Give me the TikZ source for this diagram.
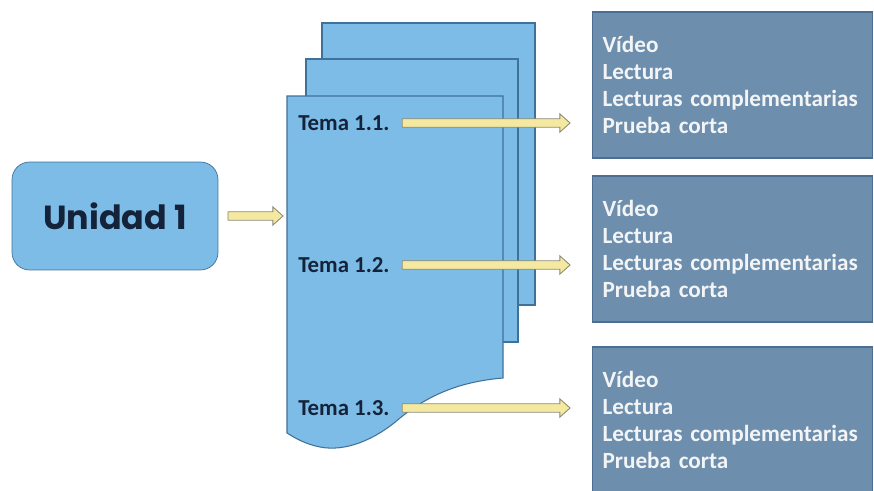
\documentclass[tikz,border=0pt]{standalone}
\usepackage{fontspec}
\setmainfont{Carlito}
\newfontfamily\unifont{Poppins}
\usepackage{tikz}
\usetikzlibrary{positioning,calc}
\definecolor{sky1}{HTML}{7CBCE6}
\definecolor{skyline}{HTML}{40719A}
\definecolor{navy1}{HTML}{14223A}
\definecolor{steel1}{HTML}{6D8EAC}
\definecolor{steelline}{HTML}{4A6F92}
\definecolor{cream1}{HTML}{F5E9A2}
\definecolor{creamline}{HTML}{8C8A72}
\definecolor{paper1}{HTML}{F2F4F6}

% flat block arrow between two points (same height as the start)
\newcommand{\fatarrow}[2]{%
  \draw[yarrow] let \p1=(#1), \p2=(#2) in
    (\x1,\y1+2.4pt) -- (\x2-5.8pt,\y1+2.4pt) -- (\x2-5.8pt,\y1+5.2pt)
    -- (\x2,\y1) -- (\x2-5.8pt,\y1-5.2pt) -- (\x2-5.8pt,\y1-2.4pt)
    -- (\x1,\y1-2.4pt) -- cycle;}

\begin{document}
\begin{tikzpicture}[x=0.02cm, y=-0.02cm,
    unit/.style={draw=skyline, fill=sky1, rounded corners=10pt,
                 minimum width=4.12cm, minimum height=2.16cm,
                 font=\unifont\bfseries\fontsize{19}{22}\selectfont,
                 text=navy1},
    page/.style={draw=skyline, fill=sky1, line width=0.6pt},
    tema/.style={anchor=west, inner sep=0pt, text=navy1,
                 font=\bfseries\fontsize{13}{15}\selectfont},
    tasks/.style={draw=steelline, fill=steel1, line width=0.6pt,
                  anchor=west, text width=5.2cm, align=left,
                  text=paper1, inner xsep=0.2cm, minimum height=2.92cm,
                  font=\bfseries\fontsize{13.2}{15.4}\selectfont},
    yarrow/.style={draw=creamline, fill=cream1, line width=0.5pt},
]
\useasboundingbox (0,0) rectangle (874,490);

% unit
\node[unit] (unidad) at (115,216) {Unidad 1};

% stacked pages
\draw[page] (322,23) rectangle (535,305);
\draw[page] (306,59) rectangle (518,342);
\draw[page] (287,96) -- (503,96) -- (503,378)
    .. controls (455,382) and (425,398) .. (400,418)
    .. controls (375,440) and (345,452) .. (320,447)
    .. controls (305,444) and (295,438) .. (287,433) -- cycle;

\coordinate (pin) at (283,213);
\fatarrow{[xshift=5.5pt]unidad.east}{pin}

% topics
\node[tema] (t1) at (298,123) {Tema 1.1.};
\node[tema] (t2) at (298,265) {Tema 1.2.};
\node[tema] (t3) at (298,408) {Tema 1.3.};

% activity boxes
\node[tasks] (b1) at (592,85)
    {Vídeo\\Lectura\\Lecturas complementarias\\Prueba corta};
\node[tasks] (b2) at (592,249)
    {Vídeo\\Lectura\\Lecturas complementarias\\Prueba corta};
\node[tasks] (b3) at (592,420)
    {Vídeo\\Lectura\\Lecturas complementarias\\Prueba corta};

\foreach \t/\b in {t1/b1, t2/b2, t3/b3}{
  \coordinate (s\t) at ([xshift=7pt]\t.east);
  \coordinate (e\t) at ([xshift=-12.5pt]\t.east -| \b.west);
  \fatarrow{s\t}{e\t}
}
\end{tikzpicture}
\end{document}
